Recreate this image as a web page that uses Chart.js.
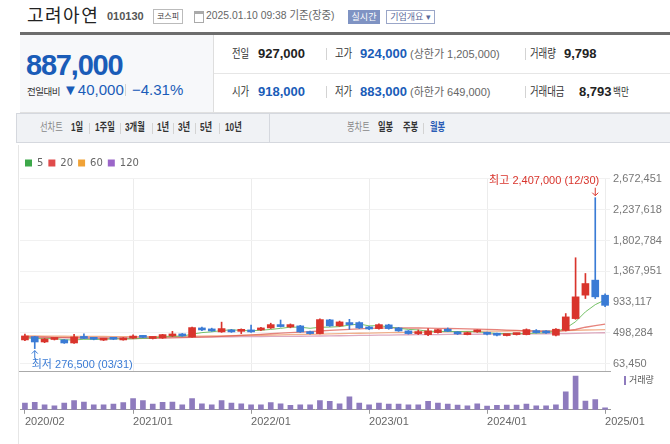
<!DOCTYPE html>
<html>
<head>
<meta charset="utf-8">
<script src="https://cdn.jsdelivr.net/npm/chart.js@4.4.1/dist/chart.umd.min.js"></script>
<style>
body{margin:0;background:#fff;font-family:"Liberation Sans","Noto Sans CJK KR",sans-serif;}
#wrap{position:relative;width:670px;height:444px;overflow:hidden;background:#fff;}
.a{position:absolute;white-space:nowrap;line-height:1;}
.nx{transform:scaleX(.78);transform-origin:0 0;}
.tx{transform:scaleX(.72);transform-origin:0 0;}
.sep{position:absolute;width:1px;background:#d3d3d3;}
.lb{font-size:12px;color:#333;}
.vb{font-size:13px;font-weight:bold;color:#222;}
.blue{color:#1a5cb8;}
.gr{font-size:11px;color:#666;}
.tab{font-size:11.5px;font-weight:bold;color:#333;top:122px;}
canvas{position:absolute;left:0;}
</style>
</head>
<body>
<div id="wrap">
  <!-- header -->
  <div class="a" style="left:27px;top:5px;font-size:18px;letter-spacing:1.5px;color:#222;font-family:'Noto Sans CJK KR'">고려아연</div>
  <div class="a" style="left:107px;top:11px;font-size:11px;font-weight:bold;color:#555">010130</div>
  <div class="a" style="left:153px;top:9px;width:28px;height:13px;border:1px solid #bbb;font-size:8px;line-height:13px;text-align:center;color:#444">코스피</div>
  <div class="a" style="left:194px;top:11px;width:8px;height:8px;border:1px solid #aaa;border-top:3px solid #aaa"></div>
  <div class="a" style="left:206px;top:10px;font-size:11.5px;color:#666;transform:scaleX(.9);transform-origin:0 0">2025.01.10 09:38 기준(장중)</div>
  <div class="a" style="left:348px;top:10px;width:32px;height:14px;background:#7f93c3;color:#fff;font-size:9px;line-height:14px;text-align:center">실시간</div>
  <div class="a" style="left:386px;top:10px;width:47px;height:12px;border:1px solid #9aa6c8;color:#5a6a9a;font-size:9px;line-height:12px;text-align:center">기업개요 ▾</div>
  <div class="a" style="left:20px;top:32px;width:650px;height:3px;background:#6d6d6d"></div>

  <!-- price box -->
  <div class="a" style="left:20px;top:35px;width:193px;height:77px;background:#f7f8fa;border-right:1px solid #dedede"></div>
  <div class="a blue" style="left:26px;top:51px;font-size:29px;font-weight:bold;letter-spacing:-1.2px">887,000</div>
  <div class="a" style="left:27px;top:87px;font-size:9.5px;color:#333;letter-spacing:-0.5px">전일대비</div>
  <div class="a blue" style="left:63px;top:82px;font-size:15px">▼40,000</div>
  <div class="sep" style="left:125px;top:84px;height:12px"></div>
  <div class="a blue" style="left:132px;top:82px;font-size:15px">−4.31%</div>

  <!-- info grid -->
  <div class="a" style="left:214px;top:73px;width:456px;height:1px;background:#e6e6e6"></div>
  <div class="a" style="left:20px;top:112px;width:650px;height:1px;background:#e0e0e0"></div>
  <div class="a lb nx" style="left:232px;top:48px">전일</div>
  <div class="a vb" style="left:258px;top:47px">927,000</div>
  <div class="sep" style="left:326px;top:48px;height:12px"></div>
  <div class="a lb nx" style="left:335px;top:48px">고가</div>
  <div class="a vb blue" style="left:360px;top:47px">924,000</div>
  <div class="a gr" style="left:410px;top:49px">(상한가 1,205,000)</div>
  <div class="sep" style="left:525px;top:48px;height:12px"></div>
  <div class="a lb nx" style="left:530px;top:48px">거래량</div>
  <div class="a vb" style="left:564px;top:47px">9,798</div>

  <div class="a lb nx" style="left:232px;top:86px">시가</div>
  <div class="a vb blue" style="left:258px;top:85px">918,000</div>
  <div class="sep" style="left:326px;top:86px;height:12px"></div>
  <div class="a lb nx" style="left:335px;top:86px">저가</div>
  <div class="a vb blue" style="left:360px;top:85px">883,000</div>
  <div class="a gr" style="left:410px;top:87px">(하한가 649,000)</div>
  <div class="sep" style="left:525px;top:86px;height:12px"></div>
  <div class="a lb nx" style="left:530px;top:86px">거래대금</div>
  <div class="a vb" style="left:579px;top:85px">8,793</div>
  <div class="a nx" style="left:613px;top:87px;font-size:11px;color:#333">백만</div>

  <!-- tab bar -->
  <div class="a" style="left:16px;top:113px;width:654px;height:28px;background:#f0f2f5;border:1px solid #d5d8de;border-right:none"></div>
  <div class="sep" style="left:269px;top:114px;height:28px;background:#d5d8de"></div>
  <div class="a tx" style="left:40px;top:122px;font-size:11.5px;color:#888">선차트</div>
  <div class="a tab tx" style="left:71px">1일</div>
  <div class="sep" style="left:89px;top:123px;height:11px"></div>
  <div class="a tab tx" style="left:95px">1주일</div>
  <div class="sep" style="left:120px;top:123px;height:11px"></div>
  <div class="a tab tx" style="left:125px">3개월</div>
  <div class="sep" style="left:152px;top:123px;height:11px"></div>
  <div class="a tab tx" style="left:157px">1년</div>
  <div class="sep" style="left:173px;top:123px;height:11px"></div>
  <div class="a tab tx" style="left:178px">3년</div>
  <div class="sep" style="left:195px;top:123px;height:11px"></div>
  <div class="a tab tx" style="left:200px">5년</div>
  <div class="sep" style="left:219px;top:123px;height:11px"></div>
  <div class="a tab tx" style="left:225px">10년</div>
  <div class="a tx" style="left:347px;top:122px;font-size:11.5px;color:#888">봉차트</div>
  <div class="a tab tx" style="left:378px">일봉</div>
  <div class="a tab tx" style="left:403px">주봉</div>
  <div class="sep" style="left:423px;top:123px;height:11px"></div>
  <div class="a tab tx" style="left:430px;color:#2a5cb5">월봉</div>

  <div class="a" style="left:18px;top:145px;width:1px;height:299px;background:#e6e6e6"></div>

  <canvas id="price" width="670" height="219" style="top:153px"></canvas>
  <canvas id="vol" width="670" height="60" style="top:371px"></canvas>
  <div class="a" style="left:624px;top:376px;width:2px;height:9px;background:#8e7bbd"></div>
  <div class="a" style="left:629px;top:376px;font-size:9px;color:#555">거래량</div>
</div>

<script>
// months 2020/02 ~ 2025/01
var months = ['2020/02','2020/03','2020/04','2020/05','2020/06','2020/07','2020/08','2020/09','2020/10','2020/11','2020/12',
'2021/01','2021/02','2021/03','2021/04','2021/05','2021/06','2021/07','2021/08','2021/09','2021/10','2021/11','2021/12',
'2022/01','2022/02','2022/03','2022/04','2022/05','2022/06','2022/07','2022/08','2022/09','2022/10','2022/11','2022/12',
'2023/01','2023/02','2023/03','2023/04','2023/05','2023/06','2023/07','2023/08','2023/09','2023/10','2023/11','2023/12',
'2024/01','2024/02','2024/03','2024/04','2024/05','2024/06','2024/07','2024/08','2024/09','2024/10','2024/11','2024/12',
'2025/01'];

var openP = [399000,445000,370000,405000,399000,356000,430000,417000,396000,415000,399000,
425000,445000,420000,427000,455000,484000,441000,559000,554000,512000,540000,520000,
526000,540000,568000,615000,582000,597000,512000,488000,682000,597000,644000,644000,
582000,559000,611000,568000,526000,488000,474000,502000,544000,512000,474000,512000,
502000,488000,460000,474000,474000,522000,522000,465000,535000,700000,1031000,1243000,
1030000];
var highP = [480000,450000,420000,420000,405000,478000,485000,425000,410000,420000,432000,
470000,460000,440000,478000,520000,490000,580000,580000,565000,650000,548000,555000,
610000,575000,635000,680000,625000,605000,525000,695000,690000,665000,690000,655000,
590000,625000,620000,575000,532000,540000,559000,550000,568000,518000,510000,540000,
508000,495000,480000,495000,555000,545000,530000,560000,771000,1559000,1337000,2407000,
1050000];
var lowP = [390000,276500,360000,398000,350000,350000,415000,400000,390000,402000,395000,
418000,430000,412000,420000,445000,450000,438000,530000,520000,505000,505000,488000,
505000,530000,560000,580000,570000,505000,480000,485000,590000,590000,550000,560000,
545000,550000,550000,520000,480000,475000,460000,495000,515000,475000,470000,505000,
470000,455000,455000,468000,470000,495000,490000,455000,525000,690000,983000,983000,
870000];
var closeP = [455000,370000,413000,412000,356000,441000,420000,408000,402000,408000,427000,
432000,435000,430000,474000,470000,455000,573000,540000,526000,559000,512000,530000,
512000,568000,615000,587000,615000,512000,488000,686000,597000,653000,615000,568000,
554000,615000,559000,526000,488000,512000,526000,544000,522000,484000,502000,519000,
479000,465000,474000,488000,545000,502000,498000,550000,724000,1007000,1195000,1007000,
887000];

// moving averages (thousand won)
var ma5 = [430,420,415,420,401,398,408,407,405,416,413,
415,421,426,440,448,453,480,502,513,531,542,533,
528,536,547,562,579,579,563,578,580,587,608,624,
597,601,582,564,548,540,522,519,518,518,516,514,
501,490,488,485,490,495,501,517,564,656,795,897,
964];
var ma20 = [445,443,440,436,432,428,425,422,420,418,417,
418,420,422,425,428,431,434,438,442,448,455,462,
470,478,486,494,503,510,517,525,533,541,549,556,
563,566,568,568,567,567,566,563,560,557,554,551,
547,543,538,533,528,523,518,520,530,546,578,602,
622];
var ma60 = [455,454,453,452,451,450,449,448,447,446,446,
446,446,446,447,448,449,451,453,455,457,459,461,
463,465,468,471,474,476,478,481,484,487,490,493,
496,499,502,504,506,508,510,512,514,516,518,520,
522,524,525,526,527,528,528,529,531,535,539,542,
544];
var ma120 = [430,430,431,431,432,432,433,433,434,434,435,
435,436,436,437,438,439,440,441,442,443,444,445,
446,447,448,449,450,451,452,454,456,458,460,462,
464,466,468,470,472,473,474,475,476,477,478,479,
480,481,482,483,484,485,486,487,489,492,495,498,
500];

var volume = [670000,730000,500000,400000,670000,900000,770000,500000,500000,570000,700000,
1100000,900000,570000,730000,770000,500000,1100000,600000,500000,900000,670000,600000,
500000,500000,700000,600000,430000,500000,500000,900000,830000,600000,1270000,670000,
500000,670000,570000,570000,500000,500000,830000,670000,570000,470000,400000,600000,
370000,430000,470000,470000,570000,400000,400000,500000,1770000,3330000,870000,1000000,
200000];

var priceTicks = [63450, 498284, 933117, 1367951, 1802784, 2237618, 2672451];
var hiDate = '12/30';
var loDate = '03/31';

var upColor = '#d9342c';
var downColor = '#3a7bd5';
var candleColors = openP.map(function(o, i){ return closeP[i] >= o ? upColor : downColor; });

function fmt(v){ return Math.round(v).toLocaleString('en-US'); }
function k(arr){ return arr.map(function(v){ return v * 1000; }); }
function isYearStart(i){ return i === 0 || (months[i] && months[i].slice(5) === '01'); }
function noPad(s){ s.paddingTop = 0; s.paddingBottom = 0; s.paddingLeft = 0; s.paddingRight = 0; }

var markPlugin = {
  id: 'marks',
  afterDatasetsDraw: function(chart){
    var ctx = chart.ctx, xs = chart.scales.x, ys = chart.scales.y;
    var hi = highP.indexOf(Math.max.apply(null, highP));
    var lo = lowP.indexOf(Math.min.apply(null, lowP));
    ctx.save();
    ctx.font = '11px "Liberation Sans","Noto Sans CJK KR",sans-serif';
    ctx.textBaseline = 'middle';
    // high
    var hx = xs.getPixelForValue(hi), hy = ys.getPixelForValue(highP[hi]);
    ctx.fillStyle = '#d9342c'; ctx.strokeStyle = '#d9342c'; ctx.lineWidth = 1;
    ctx.textAlign = 'right';
    ctx.fillText('최고 ' + fmt(highP[hi]) + ' (' + hiDate + ')', hx + 4, hy - 17);
    ctx.beginPath(); ctx.moveTo(hx, hy - 10); ctx.lineTo(hx, hy - 2);
    ctx.moveTo(hx - 3, hy - 5); ctx.lineTo(hx, hy - 2); ctx.lineTo(hx + 3, hy - 5); ctx.stroke();
    // low
    var lx = xs.getPixelForValue(lo), ly = ys.getPixelForValue(lowP[lo]);
    ctx.fillStyle = '#3a7bd5'; ctx.strokeStyle = '#3a7bd5';
    ctx.textAlign = 'left';
    ctx.fillText('최저 ' + fmt(lowP[lo]) + ' (' + loDate + ')', lx - 3, ly + 16);
    ctx.beginPath(); ctx.moveTo(lx, ly + 10); ctx.lineTo(lx, ly + 2);
    ctx.moveTo(lx - 3, ly + 5); ctx.lineTo(lx, ly + 2); ctx.lineTo(lx + 3, ly + 5); ctx.stroke();
    ctx.restore();
  }
};

var ctxP = document.getElementById('price').getContext('2d');
var priceChart = new Chart(ctxP, {
  type: 'bar',
  data: {
    labels: months,
    datasets: [
      { label: 'body', data: months.map(function(m, i){ return [openP[i], closeP[i]]; }),
        backgroundColor: candleColors, barThickness: 7, grouped: false, minBarLength: 2, order: 0 },
      { label: 'wick', data: months.map(function(m, i){ return [lowP[i], highP[i]]; }),
        backgroundColor: candleColors, barThickness: 1, grouped: false, order: 1 },
      { type: 'line', label: '5', data: k(ma5), borderColor: 'rgba(110,190,95,0.95)', backgroundColor: '#3da84a',
        borderWidth: 1, pointRadius: 0, fill: false, order: 2 },
      { type: 'line', label: '20', data: k(ma20), borderColor: 'rgba(222,90,80,0.75)', backgroundColor: '#e04b4b',
        borderWidth: 1.3, pointRadius: 0, fill: false, order: 3 },
      { type: 'line', label: '60', data: k(ma60), borderColor: 'rgba(238,150,100,0.75)', backgroundColor: '#f0a237',
        borderWidth: 1.3, pointRadius: 0, fill: false, order: 4 },
      { type: 'line', label: '120', data: k(ma120), borderColor: 'rgba(210,140,170,0.75)', backgroundColor: '#9b66c9',
        borderWidth: 1.3, pointRadius: 0, fill: false, order: 5 }
    ]
  },
  options: {
    responsive: false,
    animation: false,
    events: [],
    layout: { padding: { left: 20, bottom: 0 } },
    plugins: {
      tooltip: { enabled: false },
      legend: {
        position: 'top', align: 'start',
        labels: {
          boxWidth: 7, boxHeight: 7, padding: 5, color: '#666',
          font: { size: 10, family: '"DejaVu Sans", sans-serif' },
          generateLabels: function(chart){
            return Chart.defaults.plugins.legend.labels.generateLabels(chart)
              .filter(function(l){ return l.datasetIndex >= 2; })
              .map(function(l){ l.strokeStyle = l.fillStyle; l.lineWidth = 0; return l; });
          }
        }
      }
    },
    scales: {
      x: {
        offset: true,
        afterFit: noPad,
        grid: { offset: false, drawTicks: false,
          color: function(c){ return (c.index > 0 && isYearStart(c.index)) ? '#ececec' : 'rgba(0,0,0,0)'; } },
        ticks: { display: false, autoSkip: false },
        border: { color: '#aaaaaa', width: 2 }
      },
      y: {
        position: 'right',
        min: -54000, max: 2685000,
        afterBuildTicks: function(s){ s.ticks = priceTicks.map(function(v){ return { value: v }; }); },
        afterFit: function(s){ s.width = 60; noPad(s); },
        ticks: { padding: 3, color: '#777', font: { size: 11, family: '"Liberation Sans", sans-serif' },
          callback: function(v){ return fmt(v); } },
        grid: { color: '#f1f1f1', drawTicks: false },
        border: { display: false }
      }
    }
  },
  plugins: [markPlugin]
});

var ctxV = document.getElementById('vol').getContext('2d');
var volChart = new Chart(ctxV, {
  type: 'bar',
  data: {
    labels: months,
    datasets: [{ label: '거래량', data: volume, backgroundColor: '#8e7bbd', barThickness: 5 }]
  },
  options: {
    responsive: false,
    animation: false,
    events: [],
    layout: { padding: { left: 20, top: 3 } },
    plugins: { legend: { display: false }, tooltip: { enabled: false } },
    scales: {
      x: {
        offset: true,
        grid: { offset: false, drawOnChartArea: false, tickLength: 4,
          color: function(c){ return isYearStart(c.index) ? '#999' : 'rgba(0,0,0,0)'; } },
        border: { color: '#999', width: 1 },
        ticks: { autoSkip: false, maxRotation: 0, align: 'start', padding: 2, color: '#666',
          font: { size: 11, family: '"Liberation Sans", sans-serif' },
          callback: function(v, i){ return isYearStart(i) ? months[i] : ''; } }
      },
      y: {
        position: 'right', min: 0, max: 3530000,
        afterFit: function(s){ s.width = 60; },
        ticks: { display: false },
        grid: { display: false },
        border: { display: false }
      }
    }
  }
});
</script>
</body>
</html>
